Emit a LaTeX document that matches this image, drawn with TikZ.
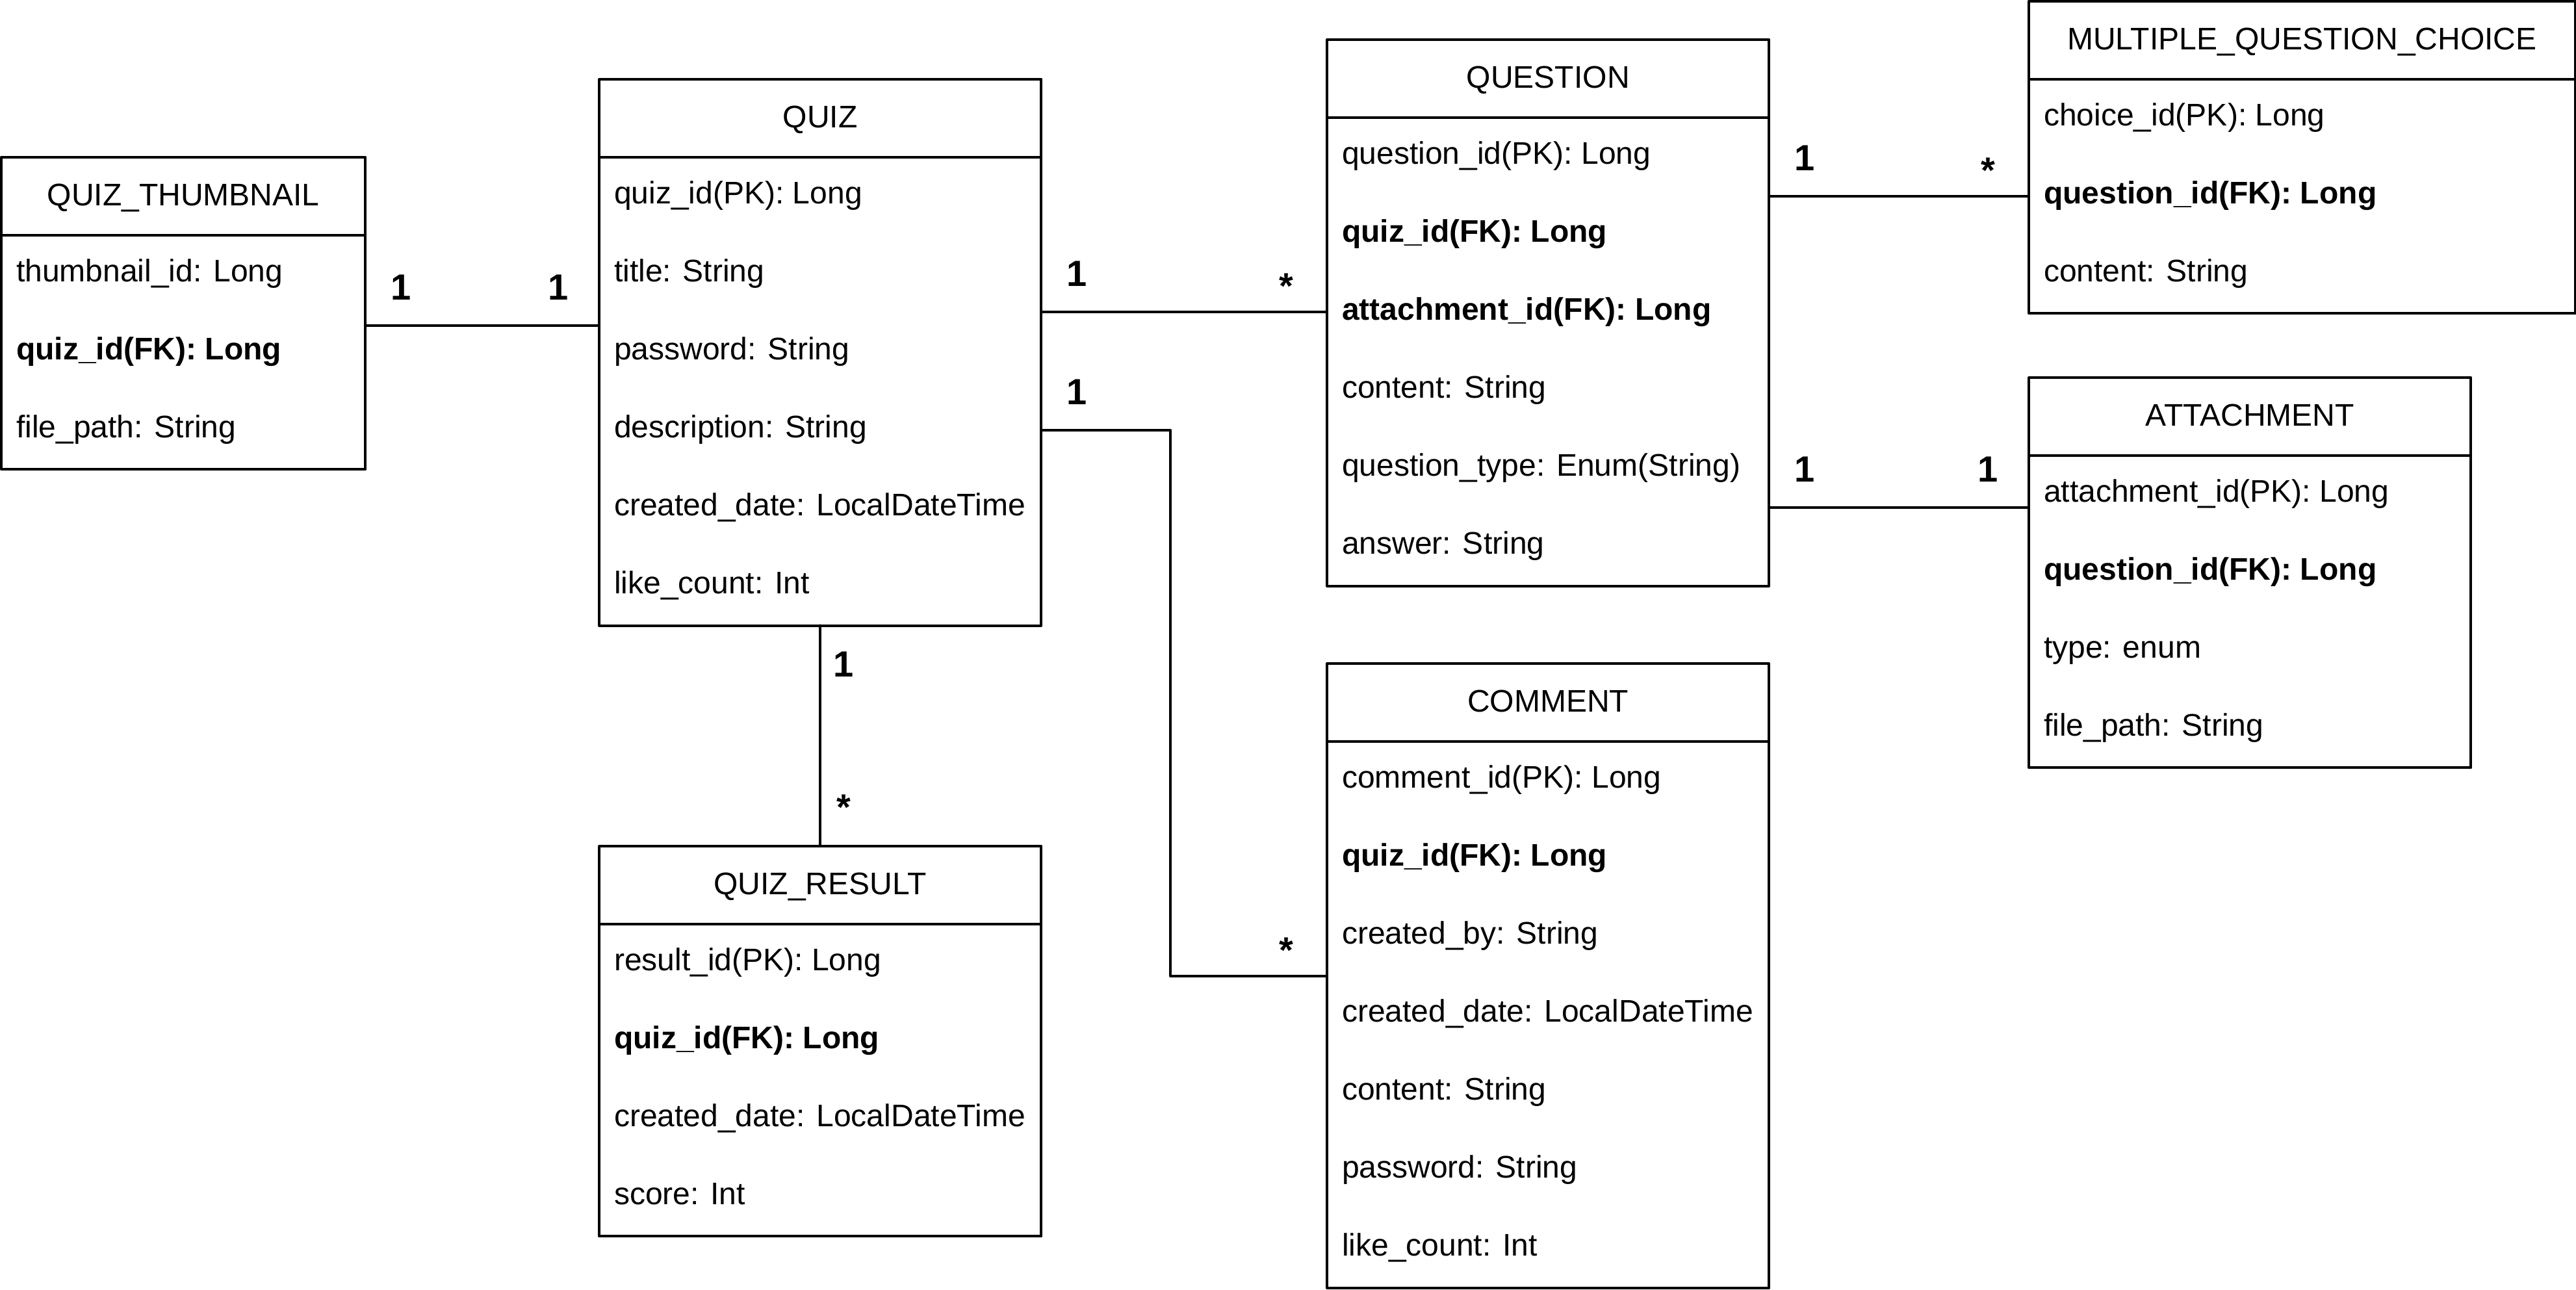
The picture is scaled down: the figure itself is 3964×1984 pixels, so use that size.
\documentclass[tikz,border=0pt]{standalone}
\usepackage{fontspec}
\setmainfont{Liberation Sans}
\usetikzlibrary{positioning}
\newcommand{\tablefont}{\fontsize{13.66pt}{16pt}\selectfont}
\newcommand{\multfont}{\fontsize{15.93pt}{19pt}\selectfont\bfseries}
\tikzstyle{every node}=[font=\tablefont]
\tikzstyle{every path}=[line width=0.04cm,line cap=round,line join=round]
\tikzstyle{entity}=[draw,outer sep=0pt,inner sep=0pt,minimum height=1.2cm,text height=0.40cm,text depth=0.12cm]
\tikzstyle{attrs}=[draw,outer sep=0pt,inner sep=0pt]
\tikzstyle{attr}=[anchor=base west,inner sep=0pt]
\tikzstyle{fkey}=[attr,font=\tablefont\bfseries]
\tikzstyle{mult}=[anchor=base,inner sep=0pt,font=\multfont]

\begin{document}
\begin{tikzpicture}[x=0.01cm,y=-0.01cm]
    \useasboundingbox (0,0) rectangle (3964,1984);

    % QUIZ_THUMBNAIL
    \node[entity,minimum width=5.6cm,anchor=north west] (thumb) at (2,242) {QUIZ\_THUMBNAIL};
    \node[attrs,minimum width=5.6cm,minimum height=3.6cm,below=0pt of thumb] (thumb-body) {};
    \node[attr] (thumb-id) at (23,433) {thumbnail\_id: Long};
    \node[fkey] (thumb-quiz) at (23,553) {quiz\_id(FK): Long};
    \node[attr] (thumb-path) at (23,673) {file\_path: String};

    % QUIZ
    \node[entity,minimum width=6.8cm,anchor=north west] (quiz) at (922,122) {QUIZ};
    \node[attrs,minimum width=6.8cm,minimum height=7.2cm,below=0pt of quiz] (quiz-body) {};
    \node[attr] (quiz-id) at (943,313) {quiz\_id(PK): Long};
    \node[attr] (quiz-title) at (943,433) {title: String};
    \node[attr] (quiz-pw) at (943,553) {password: String};
    \node[attr] (quiz-desc) at (943,673) {description: String};
    \node[attr] (quiz-date) at (943,793) {created\_date: LocalDateTime};
    \node[attr] (quiz-like) at (943,913) {like\_count: Int};

    % QUIZ_RESULT
    \node[entity,minimum width=6.8cm,anchor=north west] (result) at (922,1302) {QUIZ\_RESULT};
    \node[attrs,minimum width=6.8cm,minimum height=4.8cm,below=0pt of result] (result-body) {};
    \node[attr] (result-id) at (943,1493) {result\_id(PK): Long};
    \node[fkey] (result-quiz) at (943,1613) {quiz\_id(FK): Long};
    \node[attr] (result-date) at (943,1733) {created\_date: LocalDateTime};
    \node[attr] (result-score) at (943,1853) {score: Int};

    % QUESTION
    \node[entity,minimum width=6.8cm,anchor=north west] (question) at (2042,61) {QUESTION};
    \node[attrs,minimum width=6.8cm,minimum height=7.2cm,below=0pt of question] (question-body) {};
    \node[attr] (question-id) at (2063,252) {question\_id(PK): Long};
    \node[fkey] (question-quiz) at (2063,372) {quiz\_id(FK): Long};
    \node[fkey] (question-att) at (2063,492) {attachment\_id(FK): Long};
    \node[attr] (question-content) at (2063,612) {content: String};
    \node[attr] (question-type) at (2063,732) {question\_type: Enum(String)};
    \node[attr] (question-answer) at (2063,852) {answer: String};

    % COMMENT
    \node[entity,minimum width=6.8cm,anchor=north west] (comment) at (2042,1021) {COMMENT};
    \node[attrs,minimum width=6.8cm,minimum height=8.4cm,below=0pt of comment] (comment-body) {};
    \node[attr] (comment-id) at (2063,1212) {comment\_id(PK): Long};
    \node[fkey] (comment-quiz) at (2063,1332) {quiz\_id(FK): Long};
    \node[attr] (comment-by) at (2063,1452) {created\_by: String};
    \node[attr] (comment-date) at (2063,1572) {created\_date: LocalDateTime};
    \node[attr] (comment-content) at (2063,1692) {content: String};
    \node[attr] (comment-pw) at (2063,1812) {password: String};
    \node[attr] (comment-like) at (2063,1932) {like\_count: Int};

    % MULTIPLE_QUESTION_CHOICE
    \node[entity,minimum width=8.4cm,anchor=north west] (choice) at (3122,2) {MULTIPLE\_QUESTION\_CHOICE};
    \node[attrs,minimum width=8.4cm,minimum height=3.6cm,below=0pt of choice] (choice-body) {};
    \node[attr] (choice-id) at (3143,193) {choice\_id(PK): Long};
    \node[fkey] (choice-question) at (3143,313) {question\_id(FK): Long};
    \node[attr] (choice-content) at (3143,433) {content: String};

    % ATTACHMENT
    \node[entity,minimum width=6.8cm,anchor=north west] (attach) at (3122,581) {ATTACHMENT};
    \node[attrs,minimum width=6.8cm,minimum height=4.8cm,below=0pt of attach] (attach-body) {};
    \node[attr] (attach-id) at (3143,772) {attachment\_id(PK): Long};
    \node[fkey] (attach-question) at (3143,892) {question\_id(FK): Long};
    \node[attr] (attach-type) at (3143,1012) {type: enum};
    \node[attr] (attach-path) at (3143,1132) {file\_path: String};

    % relations
    \draw (thumb-body.east |- 0,501) -- (quiz-body.west |- 0,501);
    \draw (quiz-body.east |- 0,480) -- (question-body.west |- 0,480);
    \draw (quiz-body.east |- 0,662) -- ++(199,0) |- (comment-body.west |- 0,1502);
    \draw (quiz-body.south) -- (result.north);
    \draw (question-body.east |- 0,302) -- (choice-body.west |- 0,302);
    \draw (question-body.east |- 0,781) -- (attach-body.west |- 0,781);

    % multiplicities
    \node[mult] (thumb-one) at (617,461) {1};
    \node[mult] (quiz-thumb-one) at (859,461) {1};
    \node[mult] (quiz-question-one) at (1657,440) {1};
    \node[mult] (question-many) at (1979,459) {*};
    \node[mult] (quiz-comment-one) at (1657,622) {1};
    \node[mult] (comment-many) at (1979,1481) {*};
    \node[mult] (quiz-result-one) at (1298,1041) {1};
    \node[mult] (result-many) at (1298,1261) {*};
    \node[mult] (question-choice-one) at (2777,262) {1};
    \node[mult] (choice-many) at (3059,281) {*};
    \node[mult] (question-attach-one) at (2777,741) {1};
    \node[mult] (attach-one) at (3059,741) {1};
\end{tikzpicture}
\end{document}
